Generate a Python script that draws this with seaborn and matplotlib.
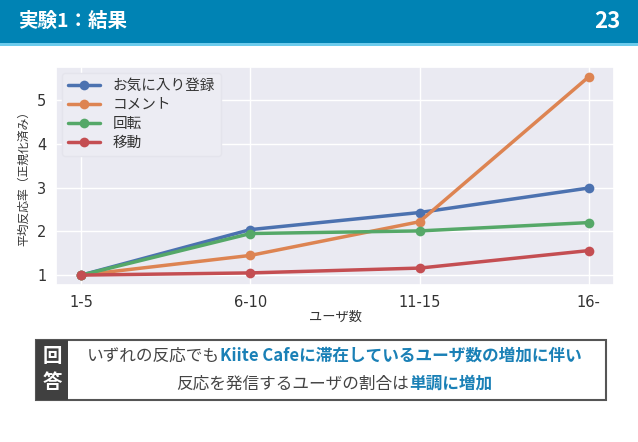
import matplotlib.pyplot as plt
import matplotlib.patches as mpatches
import pandas as pd
import seaborn as sns

# データ
groups = ['1-5', '6-10', '11-15', '16-']
favorite = [1.0, 2.04, 2.43, 2.99]
comment = [1.0, 1.45, 2.22, 5.53]
rotate = [1.0, 1.95, 2.01, 2.20]
move = [1.0, 1.05, 1.16, 1.56]
series_names = ['お気に入り登録', 'コメント', '回転', '移動']

sns.set_theme(style='darkgrid')
plt.rcParams['font.family'] = ['DejaVu Sans', 'Noto Sans CJK JP']
JP = ['Noto Sans CJK JP', 'DejaVu Sans']

rows = []
for name, vals in zip(series_names, [favorite, comment, rotate, move]):
    for g, v in zip(groups, vals):
        rows.append({'ユーザ数': g, '値': v, '反応': name})
df = pd.DataFrame(rows)

fig = plt.figure(figsize=(6.38, 4.42), dpi=100)
W, H = 638, 442

# ヘッダー
fig.patches.append(mpatches.Rectangle((0, 1 - 43 / H), 1, 43 / H, transform=fig.transFigure,
                                      facecolor='#0083b4', edgecolor='none', zorder=0))
fig.patches.append(mpatches.Rectangle((0, 1 - 46 / H), 1, 3 / H, transform=fig.transFigure,
                                      facecolor='#6ccbec', edgecolor='none', zorder=0))
fig.text(18 / W, 1 - 21 / H, '実験1：結果', color='white', fontsize=14, fontweight='bold',
         va='center', ha='left', family=JP)
fig.text(621 / W, 1 - 21 / H, '23', color='white', fontsize=16, fontweight='bold',
         va='center', ha='right', family=JP)

# グラフ
ax = fig.add_axes([56 / W, 1 - 285 / H, (614 - 56) / W, (285 - 67) / H])
sns.lineplot(data=df, x='ユーザ数', y='値', hue='反応', marker='o', markersize=7,
             markeredgewidth=0, linewidth=2.5, sort=False, ax=ax, palette='deep')
ax.set_yticks([1, 2, 3, 4, 5])
ax.tick_params(labelsize=10.5, pad=1, labelcolor='#333333')
ax.set_xlabel('ユーザ数', fontsize=9.5, family=JP, labelpad=1, color='#333333')
ax.set_ylabel('平均反応率（正規化済み）', fontsize=8.5, family=JP, labelpad=5, color='#333333')
leg = ax.legend(loc='upper left', prop={'family': JP, 'size': 10.5}, handlelength=2.2,
                labelspacing=0.35, borderaxespad=0.4, handletextpad=0.9,
                facecolor='#ececf3', edgecolor='#e4e4ec', framealpha=1)
for t in leg.get_texts():
    t.set_color('#333333')

# 回答ボックス
fig.patches.append(mpatches.Rectangle((36 / W, 1 - 400 / H), 570 / W, 60 / H,
                                      transform=fig.transFigure, facecolor='white',
                                      edgecolor='#555555', linewidth=1.5, zorder=1))
fig.patches.append(mpatches.Rectangle((36 / W, 1 - 400 / H), 32 / W, 60 / H,
                                      transform=fig.transFigure, facecolor='#404040',
                                      edgecolor='none', zorder=2))
fig.text(52 / W, 1 - 357 / H, '回', color='white', fontsize=14, fontweight='bold',
         ha='center', va='center', family=JP, zorder=3)
fig.text(52 / W, 1 - 382 / H, '答', color='white', fontsize=14, fontweight='bold',
         ha='center', va='center', family=JP, zorder=3)

line1 = [('いずれの反応でも', '#444444', 'normal'),
         ('Kiite Cafeに滞在しているユーザ数の増加に伴い', '#1a80b6', 'bold')]
line2 = [('反応を発信するユーザの割合は', '#444444', 'normal'),
         ('単調に増加', '#1a80b6', 'bold')]

renderer = fig.canvas.get_renderer()


def draw_line(parts, cx, cy):
    texts = []
    for s, c, w in parts:
        t = fig.text(0, 1 - cy / H, s, color=c, fontweight=w, fontsize=12,
                     va='center', ha='left', family=JP, zorder=3)
        texts.append(t)
    widths = [t.get_window_extent(renderer).width for t in texts]
    x = cx - sum(widths) / 2
    for t, w in zip(texts, widths):
        t.set_x(x / W)
        x += w


draw_line(line1, 334, 356)
draw_line(line2, 334, 384)

fig.savefig('out.png', dpi=100)
